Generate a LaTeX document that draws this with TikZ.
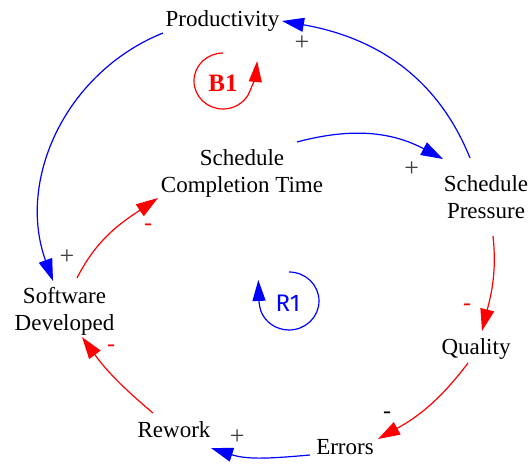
\documentclass[tikz,border=0pt]{standalone}
\usepackage{fontspec}
\setmainfont{Liberation Serif}
\newfontfamily\loopfont{Fira Sans}
\usetikzlibrary{arrows.meta,calc}
\begin{document}
\begin{tikzpicture}[x=1pt,y=1pt,
  var/.style={font=\fontsize{23}{27}\selectfont, inner sep=0pt, align=center},
  lnk/.style={line width=1.2pt, -{Triangle[length=22pt,width=14pt]}},
  bl/.style={lnk, color=blue},
  rd/.style={lnk, color=red},
  plus/.style={font=\fontsize{26}{28}\selectfont, text=black!75, inner sep=0pt},
  minusr/.style={font=\fontsize{24}{26}\selectfont, text=red, inner sep=0pt},
  minusk/.style={font=\fontsize{24}{26}\selectfont, text=black, inner sep=0pt},
  loopline/.style={line width=1.2pt}]
\useasboundingbox (0,0) rectangle (528,464);

% variables
\node[var, anchor=base] (prod) at (222.5,437) {Productivity};
\node[var] (sct) at (242,290.5) {Schedule\\Completion Time};
\node[var] (sp) at (486,267) {Schedule\\Pressure};
\node[var] (sd) at (64.5,153) {Software\\Developed};
\node[var, anchor=base] (qual) at (476,109) {Quality};
\node[var, anchor=base] (rew) at (174,26.7) {Rework};
\node[var, anchor=base] (err) at (345,9.7) {Errors};

% links
\draw[bl] ([shift={(-16,39)}]sp.center) to[out=112,in=-10] ([shift={(59.5,6)}]prod.base);
\draw[bl] ([shift={(-59.5,-6)}]prod.base) to[out=202,in=110] ([shift={(-11.5,30)}]sd.center);
\draw[rd] ([shift={(12.5,33)}]sd.center) to[out=63,in=214] ([shift={(-84,-24.5)}]sct.center);
\draw[bl] ([shift={(55,31.5)}]sct.center) to[out=15,in=152] ([shift={(-43,38)}]sp.center);
\draw[rd] ([shift={(7,-39)}]sp.center) to[out=-84,in=76] ([shift={(6,24)}]qual.base);
\draw[rd] ([shift={(-8,-8)}]qual.base) to[out=233,in=29] ([shift={(33,15.3)}]err.base);
\draw[bl] ([shift={(-35,-0.7)}]err.base) to[out=185,in=-18] ([shift={(37,-10.7)}]rew.base);
\draw[rd] ([shift={(-21,24.3)}]rew.base) to[out=140,in=-54] ([shift={(17.5,-26)}]sd.center);

% polarities
\node[plus] (p1) at (302,421) {+};
\node[plus] (p2) at (67,207) {+};
\node[minusr] (p3) at (148,237) {-};
\node[plus] (p4) at (411.7,295) {+};
\node[minusr] (p5) at (467,157) {-};
\node[minusk] (p6) at (387,49) {-};
\node[plus] (p7) at (237.3,26.7) {+};
\node[minusr] (p8) at (111,115.5) {-};

% loop B1
\node[font=\fontsize{25}{27}\selectfont\bfseries, text=red, inner sep=0pt] (b1) at (223,381) {B1};
\draw[loopline, red, -{Triangle[length=21pt,width=13pt]}] (223,411) arc[start angle=90, end angle=330, x radius=29, y radius=28] to[out=65,in=-95] ++(9,34);

% loop R1
\node[font=\fontsize{24}{26}\loopfont, text=blue, inner sep=0pt] (r1) at (288,161) {R1};
\draw[loopline, blue, -{Triangle[length=21pt,width=13pt]}] (289,192) arc[start angle=90, end angle=-160, x radius=30, y radius=29] to[out=105,in=-88] ++(-2.5,31);
\end{tikzpicture}
\end{document}
